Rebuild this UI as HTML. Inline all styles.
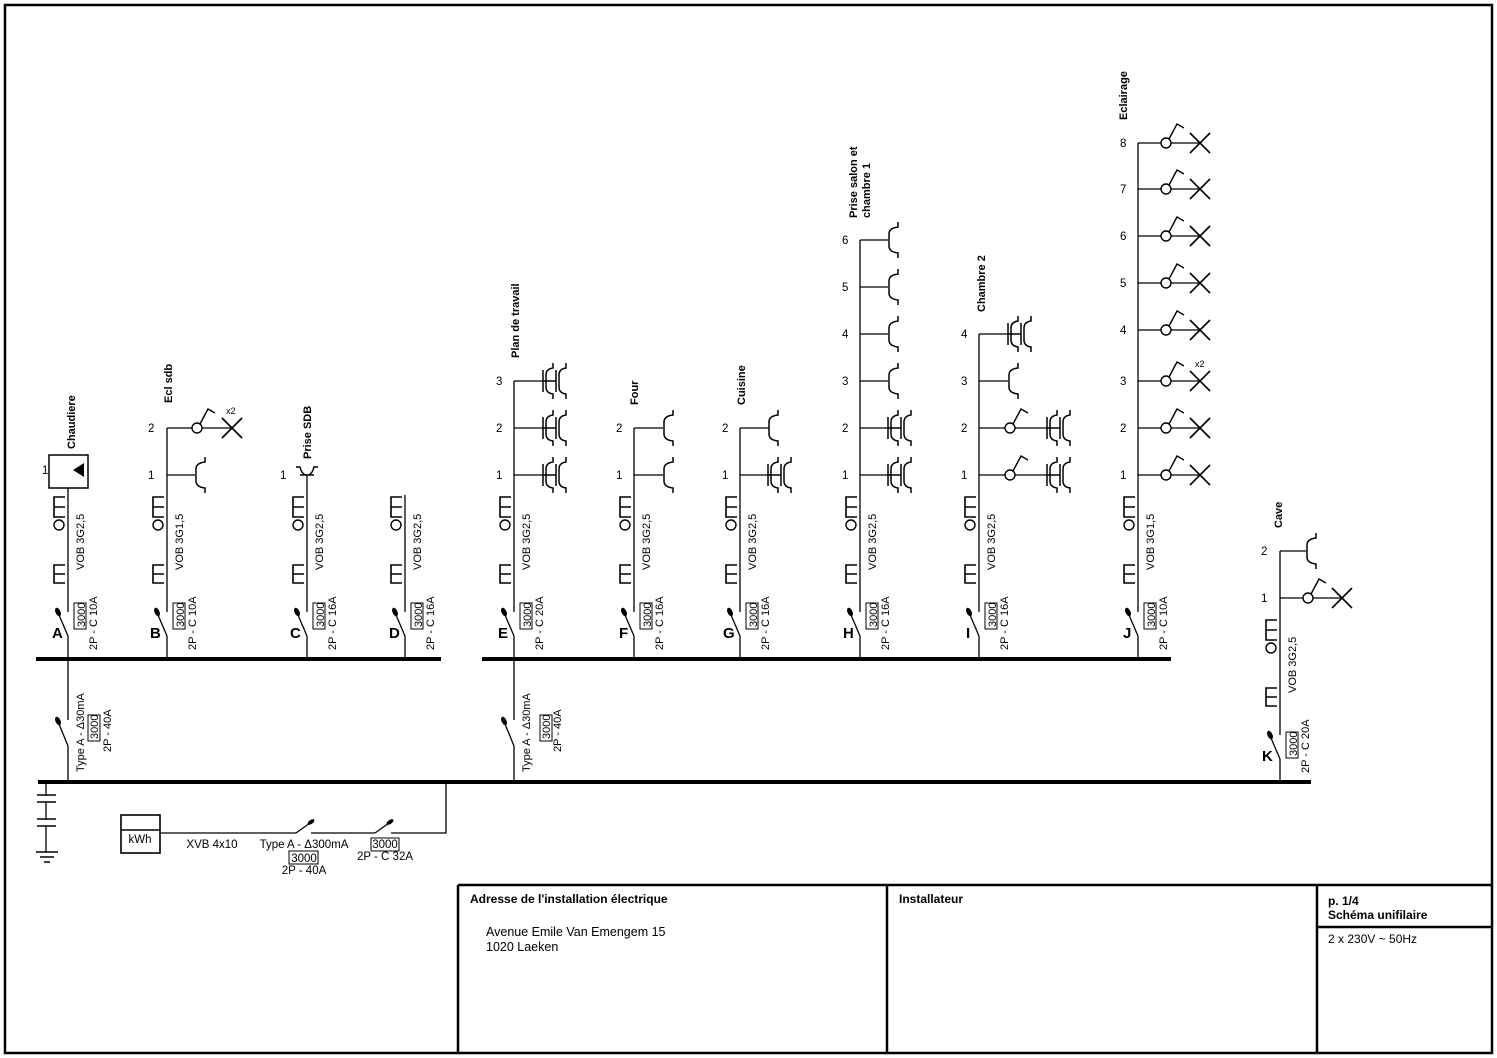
<!DOCTYPE html>
<html><head><meta charset="utf-8"><style>
html,body{margin:0;padding:0;background:#fff}
svg{display:block}
text{font-family:"Liberation Sans",sans-serif;fill:#000}
.r{font-size:11px}
.b{font-weight:bold}
</style></head><body>
<svg width="1497" height="1058" viewBox="0 0 1497 1058" xmlns="http://www.w3.org/2000/svg">
<defs>
<g id="base" fill="none" stroke="#000">
<path d="M-3,497 H-14 V517 H-3 M-14,507 H-3" stroke-width="1.6"/>
<circle cx="-9" cy="525" r="5" stroke-width="1.4"/>
<path d="M-3,565 H-14 V583 H-3 M-14,574 H-3" stroke-width="1.6"/>
<path d="M0,636 L-9,615" stroke-width="1.3"/>
<ellipse cx="-10" cy="612" rx="2" ry="4" transform="rotate(-25 -10 612)" fill="#000"/>
</g>
<g id="o1" fill="none" stroke="#000" stroke-width="1.5"><path d="M10,-18 V-13 Q1,-12 1,-6 V6 Q1,12 10,13 V18"/></g>
<g id="o2" fill="none" stroke="#000" stroke-width="1.5"><path d="M0,-11 V11 M13,-11 V11 M0,0 H13"/><path d="M10,-18 V-13 Q3,-12 3,-6 V6 Q3,12 10,13 V18"/><path d="M23,-18 V-13 Q16,-12 16,-6 V6 Q16,12 23,13 V18"/></g>
<g id="sw" fill="none" stroke="#000" stroke-width="1.4"><path d="M3,-4 L11,-19 L18,-15"/><circle cx="0" cy="0" r="5" fill="#fff"/></g>
<g id="lx" fill="none" stroke="#000" stroke-width="1.6"><path d="M-10,-10 L10,10 M-10,10 L10,-10"/></g>
<g id="rcd" fill="none" stroke="#000"><path d="M0,746 L-9,724" stroke-width="1.3"/><ellipse cx="-10" cy="721" rx="2" ry="4" transform="rotate(-25 -10 721)" fill="#000"/></g>
</defs>
<rect x="5" y="5" width="1487" height="1048" fill="none" stroke="#000" stroke-width="2.5"/>
<g stroke="#000" stroke-width="2.5" fill="none">
<path d="M458,885 H1492 M458,885 V1053 M887,885 V1053 M1317,885 V1053 M1317,927 H1492"/>
</g>
<text x="470" y="903" font-size="12" class="b">Adresse de l'installation électrique</text>
<text x="486" y="936" font-size="12.5">Avenue Emile Van Emengem 15</text>
<text x="486" y="951" font-size="12.5">1020 Laeken</text>
<text x="899" y="903" font-size="12" class="b">Installateur</text>
<text x="1328" y="905" font-size="12" class="b">p. 1/4</text>
<text x="1328" y="919" font-size="12" class="b">Schéma unifilaire</text>
<text x="1328" y="943" font-size="12">2 x 230V ~ 50Hz</text>

<g stroke="#000" stroke-width="4"><path d="M36,659 H441 M482,659 H1171 M38,782 H1311"/></g>

<g stroke="#000" stroke-width="1.3" fill="none">
<path d="M68,659 V636 M68,612 V488"/>
<path d="M167,659 V636 M167,612 V428"/>
<path d="M307,659 V636 M307,612 V475"/>
<path d="M405,659 V636 M405,612 V495"/>
<path d="M514,659 V636 M514,612 V381"/>
<path d="M634,659 V636 M634,612 V428"/>
<path d="M740,659 V636 M740,612 V428"/>
<path d="M860,659 V636 M860,612 V240"/>
<path d="M979,659 V636 M979,612 V334"/>
<path d="M1138,659 V636 M1138,612 V143"/>
<path d="M1280,782 V759 M1280,735 V551"/>
<path d="M68,659 V720 M68,746 V782"/>
<path d="M514,659 V720 M514,746 V782"/>
<path d="M167,475 H195 M167,428 H192 M202,428 H232"/>
<path d="M514,475 H543 M514,428 H543 M514,381 H543"/>
<path d="M634,475 H663 M634,428 H663"/>
<path d="M740,475 H768 M740,428 H769"/>
<path d="M860,475 H888 M860,428 H888 M860,381 H888 M860,334 H888 M860,287 H888 M860,240 H888"/>
<path d="M979,475 H1005 M1015,475 H1047 M979,428 H1005 M1015,428 H1047 M979,381 H1008 M979,334 H1008"/>
<path d="M1138,475 H1200 M1138,428 H1200 M1138,381 H1200 M1138,330 H1200 M1138,283 H1200 M1138,236 H1200 M1138,189 H1200 M1138,143 H1200"/>
<path d="M1280,551 H1306 M1280,598 H1342"/>
<path d="M296,467 H300 Q302,475 307,475 Q312,475 314,467 H318 M300,475 H314" stroke-width="1.5"/>
<rect x="49" y="455" width="39" height="33" stroke-width="1.5"/>
</g>
<path d="M73,470 L84,463 L84,477 Z" fill="#000"/>

<use href="#base" x="68"/><use href="#base" x="167"/><use href="#base" x="307"/><use href="#base" x="405"/>
<use href="#base" x="514"/><use href="#base" x="634"/><use href="#base" x="740"/><use href="#base" x="860"/>
<use href="#base" x="979"/><use href="#base" x="1138"/><use href="#base" x="1280" y="123"/>
<use href="#rcd" x="68"/><use href="#rcd" x="514"/>

<use href="#o1" x="195" y="475"/><use href="#sw" x="197" y="428"/><use href="#lx" x="232" y="428"/>
<use href="#o2" x="543" y="475"/><use href="#o2" x="543" y="428"/><use href="#o2" x="543" y="381"/>
<use href="#o1" x="663" y="475"/><use href="#o1" x="663" y="428"/>
<use href="#o2" x="768" y="475"/><use href="#o1" x="768" y="428"/>
<use href="#o2" x="888" y="475"/><use href="#o2" x="888" y="428"/><use href="#o1" x="888" y="381"/><use href="#o1" x="888" y="334"/><use href="#o1" x="888" y="287"/><use href="#o1" x="888" y="240"/>
<use href="#sw" x="1010" y="475"/><use href="#o2" x="1047" y="475"/><use href="#sw" x="1010" y="428"/><use href="#o2" x="1047" y="428"/><use href="#o1" x="1008" y="381"/><use href="#o2" x="1008" y="334"/>
<use href="#sw" x="1166" y="475"/><use href="#lx" x="1200" y="475"/>
<use href="#sw" x="1166" y="428"/><use href="#lx" x="1200" y="428"/>
<use href="#sw" x="1166" y="381"/><use href="#lx" x="1200" y="381"/>
<use href="#sw" x="1166" y="330"/><use href="#lx" x="1200" y="330"/>
<use href="#sw" x="1166" y="283"/><use href="#lx" x="1200" y="283"/>
<use href="#sw" x="1166" y="236"/><use href="#lx" x="1200" y="236"/>
<use href="#sw" x="1166" y="189"/><use href="#lx" x="1200" y="189"/>
<use href="#sw" x="1166" y="143"/><use href="#lx" x="1200" y="143"/>
<use href="#o1" x="1306" y="551"/><use href="#sw" x="1308" y="598"/><use href="#lx" x="1342" y="598"/>

<g font-size="11.5">
<text x="42" y="474">1</text>
<text x="148" y="479">1</text><text x="148" y="432">2</text>
<text x="280" y="479">1</text>
<text x="496" y="479">1</text><text x="496" y="432">2</text><text x="496" y="385">3</text>
<text x="616" y="479">1</text><text x="616" y="432">2</text>
<text x="722" y="479">1</text><text x="722" y="432">2</text>
<text x="842" y="479">1</text><text x="842" y="432">2</text><text x="842" y="385">3</text><text x="842" y="338">4</text><text x="842" y="291">5</text><text x="842" y="244">6</text>
<text x="961" y="479">1</text><text x="961" y="432">2</text><text x="961" y="385">3</text><text x="961" y="338">4</text>
<text x="1120" y="479">1</text><text x="1120" y="432">2</text><text x="1120" y="385">3</text><text x="1120" y="334">4</text><text x="1120" y="287">5</text><text x="1120" y="240">6</text><text x="1120" y="193">7</text><text x="1120" y="147">8</text>
<text x="1261" y="555">2</text><text x="1261" y="602">1</text>
</g>
<text x="226" y="414" font-size="9">x2</text>
<text x="1195" y="367" font-size="9">x2</text>

<g class="r b">
<text transform="translate(75,449) rotate(-90)">Chaudiere</text>
<text transform="translate(172,403) rotate(-90)">Ecl sdb</text>
<text transform="translate(311,459) rotate(-90)">Prise SDB</text>
<text transform="translate(519,358) rotate(-90)">Plan de travail</text>
<text transform="translate(638,405) rotate(-90)">Four</text>
<text transform="translate(745,405) rotate(-90)">Cuisine</text>
<text transform="translate(857,218) rotate(-90)">Prise salon et</text>
<text transform="translate(870,218) rotate(-90)">chambre 1</text>
<text transform="translate(985,312) rotate(-90)">Chambre 2</text>
<text transform="translate(1127,120) rotate(-90)">Eclairage</text>
<text transform="translate(1282,528) rotate(-90)">Cave</text>
</g>

<g font-size="15" class="b">
<text x="52" y="638">A</text><text x="150" y="638">B</text><text x="290" y="638">C</text><text x="389" y="638">D</text>
<text x="498" y="638">E</text><text x="619" y="638">F</text><text x="723" y="638">G</text><text x="843" y="638">H</text>
<text x="966" y="638">I</text><text x="1123" y="638">J</text><text x="1262" y="761">K</text>
</g>

<g class="r">
<text transform="translate(84,570) rotate(-90)">VOB 3G2,5</text>
<text transform="translate(183,570) rotate(-90)">VOB 3G1,5</text>
<text transform="translate(323,570) rotate(-90)">VOB 3G2,5</text>
<text transform="translate(421,570) rotate(-90)">VOB 3G2,5</text>
<text transform="translate(530,570) rotate(-90)">VOB 3G2,5</text>
<text transform="translate(650,570) rotate(-90)">VOB 3G2,5</text>
<text transform="translate(756,570) rotate(-90)">VOB 3G2,5</text>
<text transform="translate(876,570) rotate(-90)">VOB 3G2,5</text>
<text transform="translate(995,570) rotate(-90)">VOB 3G2,5</text>
<text transform="translate(1154,570) rotate(-90)">VOB 3G1,5</text>
<text transform="translate(1296,693) rotate(-90)">VOB 3G2,5</text>

<text transform="translate(85,627) rotate(-90)">3000</text>
<text transform="translate(184,627) rotate(-90)">3000</text>
<text transform="translate(324,627) rotate(-90)">3000</text>
<text transform="translate(422,627) rotate(-90)">3000</text>
<text transform="translate(531,627) rotate(-90)">3000</text>
<text transform="translate(651,627) rotate(-90)">3000</text>
<text transform="translate(757,627) rotate(-90)">3000</text>
<text transform="translate(877,627) rotate(-90)">3000</text>
<text transform="translate(996,627) rotate(-90)">3000</text>
<text transform="translate(1155,627) rotate(-90)">3000</text>
<text transform="translate(1297,756) rotate(-90)">3000</text>

<text transform="translate(97,650) rotate(-90)">2P - C 10A</text>
<text transform="translate(196,650) rotate(-90)">2P - C 10A</text>
<text transform="translate(336,650) rotate(-90)">2P - C 16A</text>
<text transform="translate(434,650) rotate(-90)">2P - C 16A</text>
<text transform="translate(543,650) rotate(-90)">2P - C 20A</text>
<text transform="translate(663,650) rotate(-90)">2P - C 16A</text>
<text transform="translate(769,650) rotate(-90)">2P - C 16A</text>
<text transform="translate(889,650) rotate(-90)">2P - C 16A</text>
<text transform="translate(1008,650) rotate(-90)">2P - C 16A</text>
<text transform="translate(1167,650) rotate(-90)">2P - C 10A</text>
<text transform="translate(1309,773) rotate(-90)">2P - C 20A</text>

<text transform="translate(84,772) rotate(-90)">Type A - Δ30mA</text>
<text transform="translate(98,739) rotate(-90)">3000</text>
<text transform="translate(111,752) rotate(-90)">2P - 40A</text>
<text transform="translate(530,772) rotate(-90)">Type A - Δ30mA</text>
<text transform="translate(550,739) rotate(-90)">3000</text>
<text transform="translate(561,752) rotate(-90)">2P - 40A</text>
</g>
<g fill="none" stroke="#000" stroke-width="1">
<rect x="74" y="603" width="12" height="26"/><rect x="173" y="603" width="12" height="26"/><rect x="313" y="603" width="12" height="26"/><rect x="411" y="603" width="12" height="26"/>
<rect x="520" y="603" width="12" height="26"/><rect x="640" y="603" width="12" height="26"/><rect x="746" y="603" width="12" height="26"/><rect x="866" y="603" width="12" height="26"/>
<rect x="985" y="603" width="12" height="26"/><rect x="1144" y="603" width="12" height="26"/><rect x="1286" y="732" width="12" height="26"/>
<rect x="88" y="715" width="12" height="26"/><rect x="540" y="715" width="12" height="26"/>
</g>

<g stroke="#000" fill="none" stroke-width="1.3">
<path d="M46,782 V795 M46,802 V819 M46,826 V852"/>
<path d="M37,795 H56 M37,802 H56 M37,819 H56 M37,826 H56" stroke-width="1.6"/>
<path d="M36,852 H58 M40,857 H54 M44,862 H50" stroke-width="1.6"/>
<rect x="121" y="815" width="39" height="38" stroke-width="1.6"/>
<path d="M121,830 H160" stroke-width="1.4"/>
<path d="M160,833 H296 M311,833 H375 M391,833 H446 V782"/>
<path d="M296,833 L310,823 M375,833 L389,823"/>
<rect x="289" y="851" width="29" height="13" stroke-width="1"/>
<rect x="371" y="838" width="28" height="13" stroke-width="1"/>
</g>
<ellipse cx="311" cy="822" rx="2" ry="4" transform="rotate(55 311 822)"/>
<ellipse cx="390" cy="822" rx="2" ry="4" transform="rotate(55 390 822)"/>
<g font-size="11.5" text-anchor="middle">
<text x="140" y="843">kWh</text>
<text x="212" y="848">XVB 4x10</text>
<text x="304" y="848">Type A - Δ300mA</text>
<text x="304" y="862">3000</text>
<text x="304" y="874">2P - 40A</text>
<text x="385" y="848">3000</text>
<text x="385" y="860">2P - C 32A</text>
</g>
</svg>
</body></html>
